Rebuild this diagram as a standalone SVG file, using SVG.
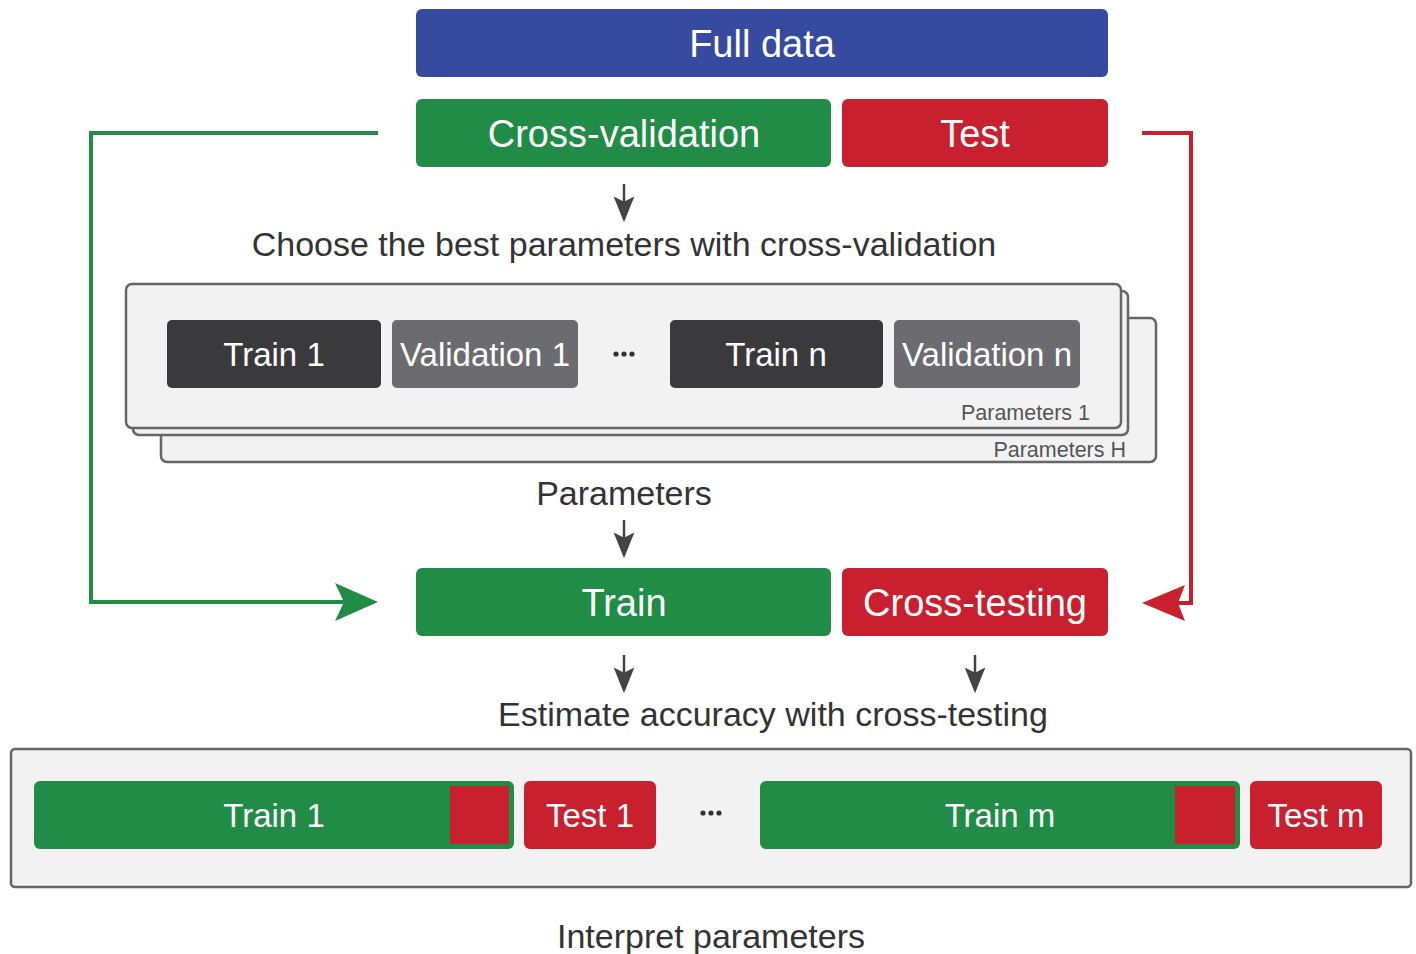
<svg xmlns="http://www.w3.org/2000/svg" width="1416" height="954" viewBox="0 0 1416 954">
<style>
.lbl{font-family:"Liberation Sans",Arial,sans-serif;fill:#fff;text-anchor:middle}
.cap{font-family:"Liberation Sans",Arial,sans-serif;fill:#333;text-anchor:middle;font-size:34px}
.small{font-family:"Liberation Sans",Arial,sans-serif;fill:#555;text-anchor:end;font-size:21.5px}
.panel{fill:#F2F2F2;stroke:#666;stroke-width:2.5}
.green{fill:#208C45}
.red{fill:#C8202E}
.dark{fill:#3A3A3C}
.grey{fill:#6C6C70}
.dot{fill:#333}
</style>
<defs>
<path id="dnarrow" d="M0,0 L0,20 M-8,15 L0,35 L8,15 L0,19 Z" />
</defs>
<rect width="1416" height="954" fill="#fff"/>

<g id="full-data"><rect x="416" y="9" width="692" height="68" rx="6" fill="#364A9F"/><text class="lbl" x="762" y="57" font-size="38">Full data</text></g>
<g id="cross-validation"><rect class="green" x="416" y="99" width="415" height="68" rx="6"/><text class="lbl" x="624" y="147" font-size="38">Cross-validation</text></g>
<g id="test"><rect class="red" x="842" y="99" width="266" height="68" rx="6"/><text class="lbl" x="975" y="147" font-size="38">Test</text></g>

<g id="choose-label"><text class="cap" x="624" y="256">Choose the best parameters with cross-validation</text></g>

<g id="parameters-stack">
<rect class="panel" x="161" y="318" width="995" height="144" rx="6"/>
<rect class="panel" x="133" y="291" width="995" height="144" rx="6"/>
<rect class="panel" x="126" y="284" width="995" height="144" rx="6"/>
<text class="small" x="1126" y="457">Parameters H</text>
<text class="small" x="1090" y="420">Parameters 1</text>
</g>
<g id="train-1-cv"><rect class="dark" x="167" y="320" width="214" height="68" rx="5"/><text class="lbl" x="274" y="366" font-size="33">Train 1</text></g>
<g id="validation-1"><rect class="grey" x="392" y="320" width="186" height="68" rx="5"/><text class="lbl" x="485" y="366" font-size="33">Validation 1</text></g>
<g id="dots-cv"><circle class="dot" cx="616" cy="354" r="2.6"/><circle class="dot" cx="624" cy="354" r="2.6"/><circle class="dot" cx="632" cy="354" r="2.6"/></g>
<g id="train-n-cv"><rect class="dark" x="670" y="320" width="213" height="68" rx="5"/><text class="lbl" x="776" y="366" font-size="33">Train n</text></g>
<g id="validation-n"><rect class="grey" x="894" y="320" width="186" height="68" rx="5"/><text class="lbl" x="987" y="366" font-size="33">Validation n</text></g>

<g id="parameters-label"><text class="cap" x="624" y="505">Parameters</text></g>

<g id="train"><rect class="green" x="416" y="568" width="415" height="68" rx="6"/><text class="lbl" x="624" y="616" font-size="38">Train</text></g>
<g id="cross-testing"><rect class="red" x="842" y="568" width="266" height="68" rx="6"/><text class="lbl" x="975" y="616" font-size="38">Cross-testing</text></g>

<g id="estimate-label"><text class="cap" x="773" y="726">Estimate accuracy with cross-testing</text></g>

<g id="cross-testing-panel"><rect class="panel" x="11" y="749" width="1400" height="138" rx="4"/></g>
<g id="train-1-ct"><rect class="green" x="34" y="781" width="480" height="68" rx="6"/><rect class="red" x="450" y="786" width="59" height="58"/><text class="lbl" x="274" y="827" font-size="33">Train 1</text></g>
<g id="test-1"><rect class="red" x="524" y="781" width="132" height="68" rx="6"/><text class="lbl" x="590" y="827" font-size="33">Test 1</text></g>
<g id="dots-ct"><circle class="dot" cx="703" cy="813" r="2.6"/><circle class="dot" cx="711" cy="813" r="2.6"/><circle class="dot" cx="719" cy="813" r="2.6"/></g>
<g id="train-m-ct"><rect class="green" x="760" y="781" width="480" height="68" rx="6"/><rect class="red" x="1175" y="786" width="60" height="58"/><text class="lbl" x="1000" y="827" font-size="33">Train m</text></g>
<g id="test-m"><rect class="red" x="1250" y="781" width="132" height="68" rx="6"/><text class="lbl" x="1316" y="827" font-size="33">Test m</text></g>

<g id="interpret-label"><text class="cap" x="711" y="948">Interpret parameters</text></g>

<g id="connectors">
<g fill="#444" stroke="#444" stroke-width="2.5">
<use href="#dnarrow" x="624" y="184"/>
<use href="#dnarrow" x="624" y="520"/>
<use href="#dnarrow" x="624" y="655"/>
<use href="#dnarrow" x="975" y="655"/>
</g>
<path d="M378,133 H91 V602 H345" fill="none" stroke="#208C45" stroke-width="4"/>
<path d="M378,602 L335,583 L344,602 L335,621 Z" fill="#208C45"/>
<path d="M1142,133 H1191 V603 H1175" fill="none" stroke="#C8202E" stroke-width="4"/>
<path d="M1142,603 L1185,585 L1178,603 L1185,621 Z" fill="#C8202E"/>
</g>
</svg>
